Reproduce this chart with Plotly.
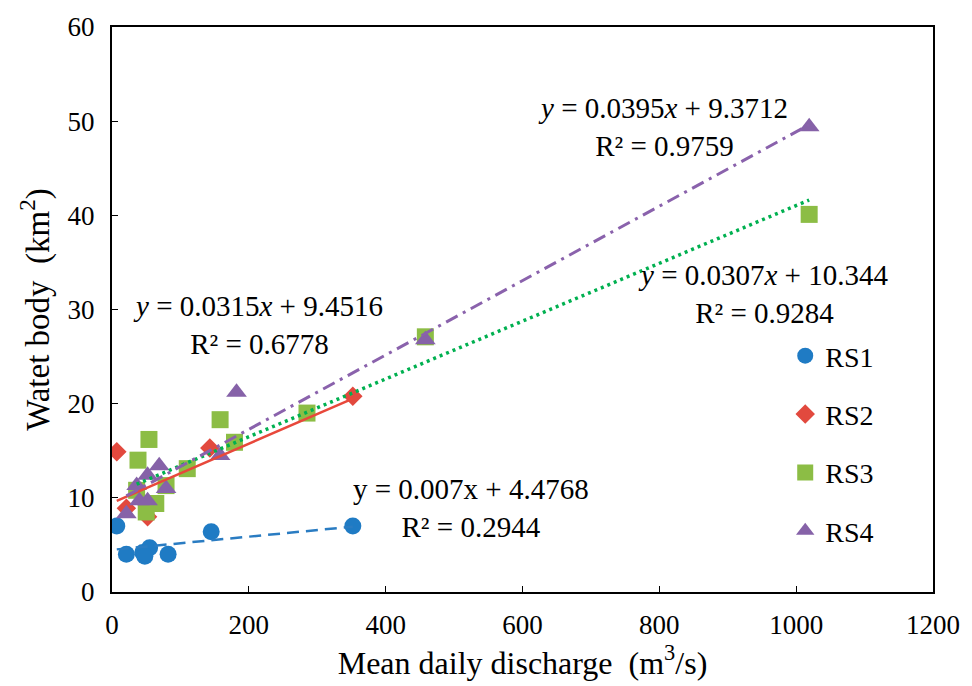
import plotly.graph_objects as go

# ---- data ----
names = ["RS1", "RS2", "RS3", "RS4"]

rs1_x = [7, 21, 45, 55, 48, 82, 145, 352]
rs1_y = [7.0, 4.0, 4.2, 4.7, 3.8, 4.0, 6.4, 7.0]

rs2_x = [7, 21, 52, 143, 352]
rs2_y = [14.9, 8.9, 8.0, 15.3, 20.8]

rs3_x = [36, 38, 50, 54, 64, 79, 110, 158, 179, 285, 458, 1019]
rs3_y = [10.8, 14.0, 8.5, 16.2, 9.4, 11.3, 13.1, 18.3, 15.9, 19.0, 27.1, 40.1]

rs4_x = [21, 36, 40, 52, 52, 69, 79, 158, 182, 458, 1019]
rs4_y = [8.3, 11.3, 9.7, 12.4, 9.7, 13.4, 11.0, 14.5, 21.2, 26.8, 49.4]

# trendline coefficients (from the equations on the chart)
slopes = [0.007, 0.0315, 0.0307, 0.0395]
intercepts = [4.4768, 9.4516, 10.344, 9.3712]
r2 = ["0.2944", "0.6778", "0.9284", "0.9759"]
eq_text = [
    "y = 0.007x + 4.4768",
    "<i>y</i> = 0.0315<i>x</i> + 9.4516",
    "<i>y</i> = 0.0307<i>x</i> + 10.344",
    "<i>y</i> = 0.0395<i>x</i> + 9.3712",
]
# label anchor positions (data coords)
eq_pos_x = [524, 213, 952, 805]
eq_pos_y = [8.9, 28.4, 31.6, 49.4]

xs = [rs1_x, rs2_x, rs3_x, rs4_x]
ys = [rs1_y, rs2_y, rs3_y, rs4_y]

marker_colors = ["#1F7BC4", "#E2493E", "#8CBD45", "#8662A8"]
symbols = ["circle", "diamond", "square", "triangle-up"]
sizes = [17, 15, 17, 18]
line_colors = ["#2A7CC2", "#E8483B", "#00B050", "#8A62AC"]
line_dash = ["12px,7px", "solid", "3px,4px", "13px,6px,3px,6px"]
line_width = [2.5, 2.5, 3.5, 3]

FONT = "Liberation Serif, Times New Roman, serif"

fig = go.Figure()
for i in range(4):
    fig.add_trace(go.Scatter(
        x=xs[i], y=ys[i], mode="markers", name=names[i],
        legendgroup=names[i],
        marker=dict(color=marker_colors[i], symbol=symbols[i], size=sizes[i],
                    line=dict(width=0)),
    ))

for i in range(4):
    x0, x1 = min(xs[i]), max(xs[i])
    fig.add_trace(go.Scatter(
        x=[x0, x1], y=[slopes[i] * x0 + intercepts[i], slopes[i] * x1 + intercepts[i]],
        mode="lines", showlegend=False, hoverinfo="skip",
        line=dict(color=line_colors[i], dash=line_dash[i], width=line_width[i]),
    ))

for i in range(4):
    fig.add_annotation(
        x=eq_pos_x[i], y=eq_pos_y[i], xref="x", yref="y",
        text=eq_text[i] + "<br>R² = " + r2[i],
        showarrow=False, align="center",
        font=dict(family=FONT, size=29, color="black"),
    )

fig.update_layout(
    width=972, height=686,
    margin=dict(l=112, r=28, t=24, b=94),
    plot_bgcolor="white", paper_bgcolor="white",
    font=dict(family=FONT, size=27, color="black"),
    showlegend=True,
    legend=dict(
        x=0.82, y=0.462, xanchor="left", yanchor="top",
        font=dict(family=FONT, size=28),
        tracegroupgap=19, traceorder="grouped",
        bgcolor="rgba(0,0,0,0)",
    ),
    xaxis=dict(
        range=[0, 1200], dtick=200, tick0=0,
        showgrid=False, zeroline=False,
        showline=True, linecolor="black", linewidth=2, mirror=True,
        ticks="inside", ticklen=6, tickcolor="black", tickwidth=1,
        tickfont=dict(family=FONT, size=27),
        ticklabelstandoff=8, ticklabeloverflow="allow",
        title=dict(text="Mean daily discharge  (m<sup>3</sup>/s)",
                   font=dict(family=FONT, size=32), standoff=6),
    ),
    yaxis=dict(
        range=[0, 60], dtick=10, tick0=0,
        showgrid=False, zeroline=False,
        showline=True, linecolor="black", linewidth=2, mirror=True,
        ticks="inside", ticklen=6, tickcolor="black", tickwidth=1,
        tickfont=dict(family=FONT, size=27),
        ticklabelstandoff=10,
        title=dict(text="Watet body  (km<sup>2</sup>)",
                   font=dict(family=FONT, size=33), standoff=8),
    ),
)

fig.write_html("out.html")
